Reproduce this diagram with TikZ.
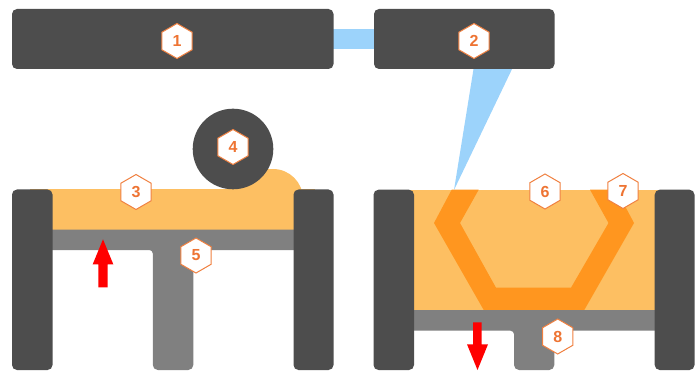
\documentclass[tikz,border=0pt]{standalone}
\usepackage{fontspec}
\setmainfont{Liberation Sans}
\usetikzlibrary{shapes.geometric}
\definecolor{darkbody}{HTML}{4D4D4D}
\definecolor{resin}{HTML}{FDBF62}
\definecolor{cured}{HTML}{FF961F}
\definecolor{platform}{HTML}{808080}
\definecolor{beam}{HTML}{9CD3FB}
\definecolor{badge}{HTML}{F08040}
\definecolor{badgetext}{HTML}{EE7433}
\tikzset{
  housing/.style={fill=darkbody,rounded corners=5pt},
  badgehex/.style={regular polygon,regular polygon sides=6,shape border rotate=30,minimum size=35pt,inner sep=0pt,
    fill=white,draw=badge,line width=1pt,text=badgetext,font=\bfseries\fontsize{16}{16}\selectfont},
  motion/.style={fill=red}
}
\begin{document}
\begin{tikzpicture}[x=1pt,y=-1pt]
\useasboundingbox (0,0) rectangle (695,371);
% laser beam
\fill[beam] (330,29) rectangle (378,49);
\fill[beam] (474,66) -- (513.5,66) -- (454,190) -- cycle;
\fill[housing] (12,9) rectangle (333.5,69);
\fill[housing] (374,9) rectangle (554.5,69);
% left: powder
\fill[resin] (30,189.5) rectangle (315,229.5);
\fill[resin] (273,199) circle[radius=30];
\fill[resin] (233,180) rectangle (273,190);
\fill[resin] (250,169) rectangle (273,180);
\fill[platform] (40,229.5) -- (305,229.5) -- (305,250) -- (193.3,250)
  [rounded corners=5pt] -- (193.3,370) -- (152.8,370)
  [rounded corners=3.5pt] -- (152.8,250) [sharp corners] -- (40,250) -- cycle;
\fill[housing] (12,189.5) rectangle (52.5,370);
\fill[housing] (293.5,189.5) rectangle (333.5,370);
\fill[darkbody] (233,149) circle[radius=40.3];
\fill[motion] (98.3,287.3) -- (107.7,287.3) -- (107.7,264.3) -- (113.3,264.3) -- (103,239.3) -- (92.7,264.3) -- (98.3,264.3) -- cycle;
% right: part bed
\fill[resin] (395,189.7) rectangle (675,310.5);
\fill[cured] (451.7,189.7) -- (434,223) -- (484,310.5) -- (584,310.5) -- (634,223) -- (616.3,189.7)
  -- (590,189.7) -- (608.5,223) -- (571,287.7) -- (496,287.7) -- (460,223) -- (478.7,189.7) -- cycle;
\fill[platform] (395,310) -- (675,310) -- (675,330.7) -- (554.3,330.7)
  [rounded corners=5pt] -- (554.3,370) -- (514,370)
  [rounded corners=3.5pt] -- (514,330.7) [sharp corners] -- (395,330.7) -- cycle;
\fill[housing] (373.5,189.7) rectangle (414,370);
\fill[housing] (654.7,189.7) rectangle (694.5,370);
\fill[motion] (473,322.3) -- (481.5,322.3) -- (481.5,344.3) -- (488,344.3) -- (477.5,370) -- (467,344.3) -- (473,344.3) -- cycle;
% badges
\node[badgehex] (n1) at (177,41) {1};
\node[badgehex] (n2) at (474,41) {2};
\node[badgehex] (n3) at (136,192) {3};
\node[badgehex] (n4) at (233,147) {4};
\node[badgehex] (n5) at (196,255.5) {5};
\node[badgehex] (n6) at (545,191.5) {6};
\node[badgehex] (n7) at (623,191) {7};
\node[badgehex] (n8) at (557.7,336.5) {8};
\end{tikzpicture}
\end{document}
